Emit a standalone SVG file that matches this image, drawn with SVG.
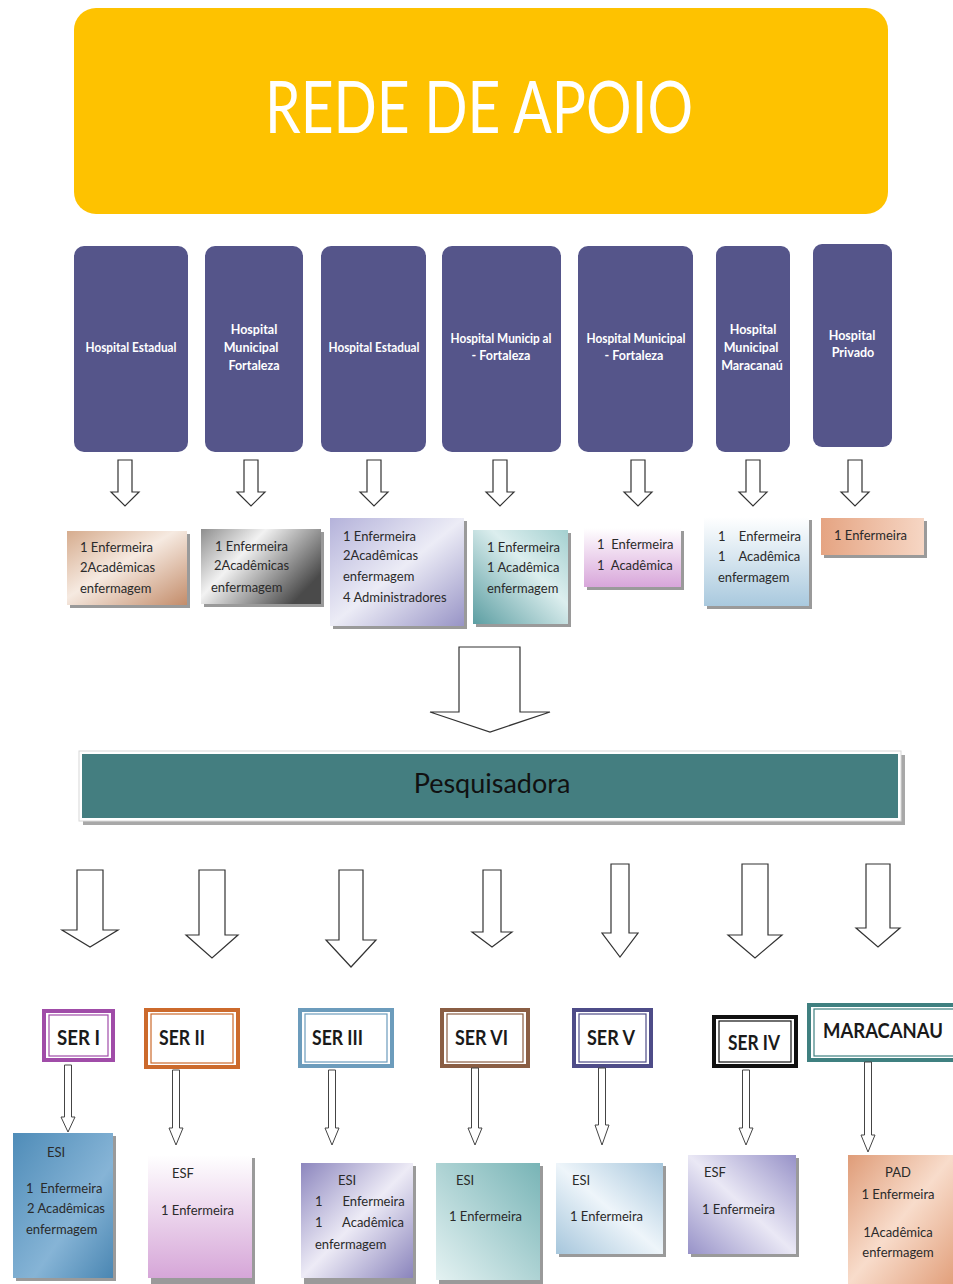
<svg xmlns="http://www.w3.org/2000/svg" width="953" height="1284" viewBox="0 0 953 1284">
<defs>
<style>
text{font-family:Lato,"Liberation Sans",sans-serif}
.hosp{fill:#55558A}
.ht{fill:#fff;font-size:12.5px;font-weight:700;text-anchor:middle}
.dt{fill:#2a2a2a;font-size:13px}
.sh{fill:#9a9a9a}
.arr{fill:#fff;stroke:#333;stroke-width:1.2}
.sarr{fill:#fff;stroke:#444;stroke-width:1}
.ser{font-size:20px;font-weight:700;fill:#1a1a1a}
.so{fill:#fff;stroke-width:4}
.si{fill:none;stroke-width:1.2}
</style>
<linearGradient id="g1" x1="0" y1="0" x2="1" y2="1"><stop offset="0" stop-color="#D6AC8E"/><stop offset="0.45" stop-color="#F6EAE1"/><stop offset="1" stop-color="#C38C6A"/></linearGradient>
<linearGradient id="g2" x1="0" y1="0" x2="1" y2="0.6"><stop offset="0" stop-color="#8E8E8E"/><stop offset="0.4" stop-color="#F2F2F2"/><stop offset="1" stop-color="#4A4A4A"/></linearGradient>
<linearGradient id="g3" x1="0" y1="0" x2="1" y2="1"><stop offset="0" stop-color="#B4B2DA"/><stop offset="0.5" stop-color="#ECECF6"/><stop offset="1" stop-color="#9894C6"/></linearGradient>
<linearGradient id="g4" x1="0" y1="1" x2="1" y2="0"><stop offset="0" stop-color="#5C9EA2"/><stop offset="0.6" stop-color="#DCEEEE"/><stop offset="1" stop-color="#A4D0D0"/></linearGradient>
<linearGradient id="g5" x1="0" y1="0" x2="0" y2="1"><stop offset="0" stop-color="#FFFFFF"/><stop offset="1" stop-color="#D8A6DA"/></linearGradient>
<linearGradient id="g6" x1="0" y1="0" x2="0" y2="1"><stop offset="0" stop-color="#FFFFFF"/><stop offset="1" stop-color="#A9C9DE"/></linearGradient>
<linearGradient id="g7" x1="0" y1="0" x2="1" y2="0"><stop offset="0" stop-color="#E5A482"/><stop offset="1" stop-color="#F6D6C4"/></linearGradient>
<linearGradient id="b1" x1="0" y1="0" x2="1" y2="1"><stop offset="0" stop-color="#4F8CB8"/><stop offset="0.6" stop-color="#86B4D6"/><stop offset="1" stop-color="#4A86B2"/></linearGradient>
<linearGradient id="b2" x1="0" y1="0" x2="0" y2="1"><stop offset="0" stop-color="#FFFFFF"/><stop offset="1" stop-color="#D6A6D8"/></linearGradient>
<linearGradient id="b3" x1="0" y1="0" x2="1" y2="1"><stop offset="0" stop-color="#8C86BE"/><stop offset="0.5" stop-color="#EDEBF6"/><stop offset="1" stop-color="#8A84BC"/></linearGradient>
<linearGradient id="b4" x1="1" y1="0" x2="0" y2="1"><stop offset="0" stop-color="#78B4B6"/><stop offset="1" stop-color="#E4F2F2"/></linearGradient>
<linearGradient id="b5" x1="0" y1="1" x2="1" y2="0"><stop offset="0" stop-color="#A6C6DC"/><stop offset="0.5" stop-color="#EEF5FA"/><stop offset="1" stop-color="#A6C6DC"/></linearGradient>
<linearGradient id="b6" x1="1" y1="0" x2="0" y2="1"><stop offset="0" stop-color="#9792C8"/><stop offset="0.5" stop-color="#EAE8F5"/><stop offset="1" stop-color="#9792C8"/></linearGradient>
<linearGradient id="b7" x1="0" y1="0" x2="1" y2="1"><stop offset="0" stop-color="#DF9C78"/><stop offset="0.5" stop-color="#F8DCCB"/><stop offset="1" stop-color="#E2A07C"/></linearGradient>
</defs>
<rect width="953" height="1284" fill="#fff"/>

<g id="title">
<rect x="74" y="8" width="814" height="206" rx="22" fill="#FEC200"/>
<text x="265" y="133" font-size="72" fill="#fff" textLength="428" lengthAdjust="spacingAndGlyphs">REDE DE APOIO</text>
</g>

<g id="hospital-1"><rect class="hosp" x="74" y="246" width="114" height="206" rx="10"/><text class="ht" x="131" y="352" textLength="91" lengthAdjust="spacingAndGlyphs">Hospital Estadual</text></g>
<g id="hospital-2"><rect class="hosp" x="205" y="246" width="98" height="206" rx="10"/><text class="ht" x="254" y="334">Hospital</text><text class="ht" x="251" y="352">Municipal</text><text class="ht" x="254" y="370">Fortaleza</text></g>
<g id="hospital-3"><rect class="hosp" x="321" y="246" width="105" height="206" rx="10"/><text class="ht" x="374" y="352" textLength="91" lengthAdjust="spacingAndGlyphs">Hospital Estadual</text></g>
<g id="hospital-4"><rect class="hosp" x="442" y="246" width="119" height="206" rx="10"/><text class="ht" x="501" y="343" textLength="101" lengthAdjust="spacingAndGlyphs">Hospital Municip al</text><text class="ht" x="501" y="360">- Fortaleza</text></g>
<g id="hospital-5"><rect class="hosp" x="578" y="246" width="115" height="206" rx="10"/><text class="ht" x="636" y="343" textLength="99" lengthAdjust="spacingAndGlyphs">Hospital Municipal</text><text class="ht" x="634" y="360">- Fortaleza</text></g>
<g id="hospital-6"><rect class="hosp" x="716" y="246" width="74" height="206" rx="9"/><text class="ht" x="753" y="334">Hospital</text><text class="ht" x="751" y="352">Municipal</text><text class="ht" x="752" y="370">Maracanaú</text></g>
<g id="hospital-7"><rect class="hosp" x="813" y="244" width="79" height="203" rx="9"/><text class="ht" x="852" y="340">Hospital</text><text class="ht" x="853" y="357">Privado</text></g>

<g id="detail-1"><rect class="sh" x="70" y="534" width="120" height="74"/><rect x="67" y="531" width="120" height="74" fill="url(#g1)"/><text class="dt" x="80" y="552">1 Enfermeira</text><text class="dt" x="80" y="572">2Acadêmicas</text><text class="dt" x="80" y="593">enfermagem</text></g>
<g id="detail-2"><rect class="sh" x="204" y="532" width="120" height="75"/><rect x="201" y="529" width="120" height="75" fill="url(#g2)"/><text class="dt" x="215" y="551">1 Enfermeira</text><text class="dt" x="214" y="570">2Acadêmicas</text><text class="dt" x="211" y="592">enfermagem</text></g>
<g id="detail-3"><rect class="sh" x="333" y="521" width="134" height="108"/><rect x="330" y="518" width="134" height="108" fill="url(#g3)"/><text class="dt" x="343" y="541">1 Enfermeira</text><text class="dt" x="343" y="560">2Acadêmicas</text><text class="dt" x="343" y="581">enfermagem</text><text class="dt" x="343" y="602">4 Administradores</text></g>
<g id="detail-4"><rect class="sh" x="476" y="533" width="95" height="94"/><rect x="473" y="530" width="95" height="94" fill="url(#g4)"/><text class="dt" x="487" y="552">1 Enfermeira</text><text class="dt" x="487" y="572">1 Acadêmica</text><text class="dt" x="487" y="593">enfermagem</text></g>
<g id="detail-5"><rect class="sh" x="587" y="531" width="97" height="59"/><rect x="584" y="528" width="97" height="59" fill="url(#g5)"/><text class="dt" x="597" y="549" xml:space="preserve">1  Enfermeira</text><text class="dt" x="597" y="570" xml:space="preserve">1  Acadêmica</text></g>
<g id="detail-6"><rect class="sh" x="707" y="520" width="105" height="89"/><rect x="704" y="517" width="105" height="89" fill="url(#g6)"/><text class="dt" x="718" y="541" xml:space="preserve">1    Enfermeira</text><text class="dt" x="718" y="561" xml:space="preserve">1    Acadêmica</text><text class="dt" x="718" y="582">enfermagem</text></g>
<g id="detail-7"><rect class="sh" x="824" y="521" width="103" height="37"/><rect x="821" y="518" width="103" height="37" fill="url(#g7)"/><text class="dt" x="834" y="540">1 Enfermeira</text></g>

<g id="pesquisadora">
<rect x="83" y="755" width="822" height="70" fill="#a8a8a8"/>
<rect x="79" y="751" width="822" height="70" fill="#fff" stroke="#d8d8d8" stroke-width="1"/>
<rect x="82" y="754" width="816" height="64" fill="#447E80"/>
<text x="492" y="793" font-size="27" fill="#111" text-anchor="middle">Pesquisadora</text>
</g>

<g id="ser-1"><rect class="so" x="44" y="1011" width="69" height="49" stroke="#A04CA8"/><rect class="si" x="49" y="1015" width="59" height="41" stroke="#A04CA8"/><text class="ser" x="57" y="1045" textLength="43" lengthAdjust="spacingAndGlyphs">SER I</text></g>
<g id="ser-2"><rect class="so" x="146" y="1010" width="92" height="57" stroke="#CC6A2C"/><rect class="si" x="151" y="1014" width="82" height="49" stroke="#CC6A2C"/><text class="ser" x="159" y="1045" textLength="46" lengthAdjust="spacingAndGlyphs">SER II</text></g>
<g id="ser-3"><rect class="so" x="300" y="1010" width="92" height="56" stroke="#6C9CBC"/><rect class="si" x="305" y="1014" width="82" height="48" stroke="#6C9CBC"/><text class="ser" x="312" y="1045" textLength="51" lengthAdjust="spacingAndGlyphs">SER III</text></g>
<g id="ser-6"><rect class="so" x="442" y="1010" width="86" height="56" stroke="#8A5E44"/><rect class="si" x="447" y="1014" width="76" height="48" stroke="#8A5E44"/><text class="ser" x="455" y="1045" textLength="53" lengthAdjust="spacingAndGlyphs">SER VI</text></g>
<g id="ser-5"><rect class="so" x="574" y="1010" width="77" height="56" stroke="#4E4C88"/><rect class="si" x="579" y="1014" width="67" height="48" stroke="#4E4C88"/><text class="ser" x="587" y="1045" textLength="48" lengthAdjust="spacingAndGlyphs">SER V</text></g>
<g id="ser-4"><rect class="so" x="714" y="1017" width="82" height="49" stroke="#111"/><rect class="si" x="719" y="1021" width="72" height="41" stroke="#111"/><text class="ser" x="728" y="1050" textLength="52" lengthAdjust="spacingAndGlyphs">SER IV</text></g>
<g id="maracanau"><rect class="so" x="809" y="1005" width="150" height="55" stroke="#3F8080"/><rect class="si" x="814" y="1009" width="140" height="47" stroke="#3F8080"/><text class="ser" x="823" y="1038" textLength="120" lengthAdjust="spacingAndGlyphs">MARACANAU</text></g>

<g id="unit-1"><rect class="sh" x="16" y="1136" width="100" height="145"/><rect x="13" y="1133" width="100" height="145" fill="url(#b1)"/><text class="dt" x="47" y="1157" font-size="12">ESI</text><text class="dt" x="26" y="1193" xml:space="preserve">1  Enfermeira</text><text class="dt" x="27" y="1213">2 Acadêmicas</text><text class="dt" x="26" y="1234">enfermagem</text></g>
<g id="unit-2"><rect class="sh" x="151" y="1158" width="104" height="126"/><rect x="148" y="1155" width="104" height="123" fill="url(#b2)"/><text class="dt" x="172" y="1178" font-size="12">ESF</text><text class="dt" x="161" y="1215">1 Enfermeira</text></g>
<g id="unit-3"><rect class="sh" x="304" y="1166" width="112" height="118"/><rect x="301" y="1163" width="112" height="115" fill="url(#b3)"/><text class="dt" x="338" y="1185" font-size="12">ESI</text><text class="dt" x="315" y="1206" xml:space="preserve">1      Enfermeira</text><text class="dt" x="315" y="1227" xml:space="preserve">1      Acadêmica</text><text class="dt" x="315" y="1249">enfermagem</text></g>
<g id="unit-6"><rect class="sh" x="439" y="1166" width="104" height="118"/><rect x="436" y="1163" width="104" height="117" fill="url(#b4)"/><text class="dt" x="456" y="1185" font-size="12">ESI</text><text class="dt" x="449" y="1221">1 Enfermeira</text></g>
<g id="unit-5"><rect class="sh" x="559" y="1166" width="107" height="91"/><rect x="556" y="1163" width="107" height="91" fill="url(#b5)"/><text class="dt" x="572" y="1185" font-size="12">ESI</text><text class="dt" x="570" y="1221">1 Enfermeira</text></g>
<g id="unit-4"><rect class="sh" x="691" y="1158" width="108" height="99"/><rect x="688" y="1155" width="108" height="99" fill="url(#b6)"/><text class="dt" x="704" y="1177" font-size="12">ESF</text><text class="dt" x="702" y="1214">1 Enfermeira</text></g>
<g id="unit-7"><rect x="848" y="1155" width="105" height="129" fill="url(#b7)"/><text class="dt" x="898" y="1177" font-size="12" text-anchor="middle">PAD</text><text class="dt" x="898" y="1199" text-anchor="middle">1 Enfermeira</text><text class="dt" x="898" y="1237" text-anchor="middle" font-size="12">1Acadêmica</text><text class="dt" x="898" y="1257" text-anchor="middle">enfermagem</text></g>

<g id="connectors">
<polygon class="arr" points="118,460 132,460 132,492 139,492 125,506 111,492 118,492"/>
<polygon class="arr" points="244,460 258,460 258,492 265,492 251,506 237,492 244,492"/>
<polygon class="arr" points="367,460 381,460 381,492 388,492 374,506 360,492 367,492"/>
<polygon class="arr" points="493,460 507,460 507,492 514,492 500,506 486,492 493,492"/>
<polygon class="arr" points="631,460 645,460 645,492 652,492 638,506 624,492 631,492"/>
<polygon class="arr" points="746,460 760,460 760,492 767,492 753,506 739,492 746,492"/>
<polygon class="arr" points="848,460 862,460 862,492 869,492 855,506 841,492 848,492"/>
<polygon class="arr" points="459,647 520,647 520,712 550,712 490,732 430,712 459,712"/>
<polygon class="arr" points="77,870 103,870 103,930 118,930 90,947 62,930 77,930"/>
<polygon class="arr" points="199,870 225,870 225,935 238,935 212,958 186,935 199,935"/>
<polygon class="arr" points="339,870 363,870 363,940 376,940 351,967 326,940 339,940"/>
<polygon class="arr" points="483,870 501,870 501,932 512,932 492,947 472,932 483,932"/>
<polygon class="arr" points="611,864 629,864 629,933 638,933 620,957 602,933 611,933"/>
<polygon class="arr" points="742,864 768,864 768,935 782,935 755,958 728,935 742,935"/>
<polygon class="arr" points="866,864 890,864 890,928 900,928 878,947 856,928 866,928"/>
<polygon class="sarr" points="64.5,1065 71.5,1065 71.5,1117 75,1117 68,1132 61,1117 64.5,1117"/>
<polygon class="sarr" points="172.5,1070 179.5,1070 179.5,1128 183,1128 176,1145 169,1128 172.5,1128"/>
<polygon class="sarr" points="328.5,1070 335.5,1070 335.5,1128 339,1128 332,1145 325,1128 328.5,1128"/>
<polygon class="sarr" points="471.5,1068 478.5,1068 478.5,1128 482,1128 475,1145 468,1128 471.5,1128"/>
<polygon class="sarr" points="598.5,1068 605.5,1068 605.5,1125 609,1125 602,1145 595,1125 598.5,1125"/>
<polygon class="sarr" points="742.5,1070 749.5,1070 749.5,1128 753,1128 746,1145 739,1128 742.5,1128"/>
<polygon class="sarr" points="864.5,1062 871.5,1062 871.5,1135 875,1135 868,1152 861,1135 864.5,1135"/>
</g>
</svg>
